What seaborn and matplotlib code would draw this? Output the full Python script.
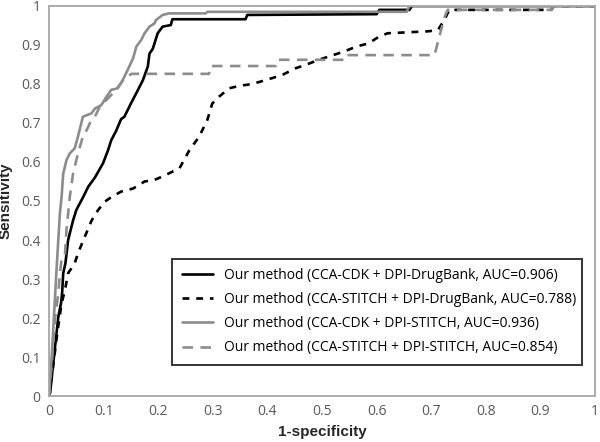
import numpy as np
import pandas as pd
import matplotlib
matplotlib.use('Agg')
import matplotlib.pyplot as plt
import seaborn as sns

# ROC points (1-specificity, sensitivity)
cdk_db_x = [0, 0.002, 0.011, 0.017, 0.022, 0.024, 0.026, 0.030, 0.035, 0.044, 0.050, 0.0625, 0.072,
            0.084, 0.099, 0.108, 0.114, 0.123, 0.132, 0.138, 0.150, 0.163, 0.172, 0.181, 0.184, 0.190,
            0.199, 0.208, 0.223, 0.226, 0.360, 0.363, 0.600, 0.605, 0.66, 0.665, 1.0]
cdk_db_y = [0, 0.008, 0.126, 0.203, 0.238, 0.264, 0.315, 0.34, 0.40, 0.45, 0.477, 0.51, 0.537,
            0.56, 0.597, 0.63, 0.656, 0.68, 0.71, 0.716, 0.75, 0.785, 0.81, 0.845, 0.878, 0.89,
            0.93, 0.947, 0.951, 0.966, 0.966, 0.977, 0.979, 0.99, 0.99, 1.0, 1.0]

stitch_db_x = [0, 0.006, 0.015, 0.023, 0.029, 0.035, 0.047, 0.053, 0.066, 0.078, 0.09, 0.102, 0.114,
               0.132, 0.154, 0.175, 0.193, 0.208, 0.239, 0.257, 0.275, 0.290, 0.299, 0.311, 0.330,
               0.348, 0.372, 0.397, 0.427, 0.451, 0.470, 0.494, 0.540, 0.563, 0.585, 0.603, 0.620,
               0.694, 0.712, 0.724, 0.733, 0.92, 0.925, 1.0]
stitch_db_y = [0, 0.06, 0.16, 0.238, 0.27, 0.315, 0.34, 0.366, 0.41, 0.45, 0.477, 0.498, 0.51,
               0.524, 0.532, 0.55, 0.554, 0.563, 0.584, 0.63, 0.665, 0.708, 0.75, 0.767, 0.789,
               0.795, 0.80, 0.81, 0.823, 0.84, 0.849, 0.862, 0.883, 0.896, 0.904, 0.92, 0.93,
               0.935, 0.938, 0.964, 0.99, 0.99, 1.0, 1.0]

cdk_stitch_x = [0, 0.004, 0.008, 0.014, 0.017, 0.020, 0.023, 0.026, 0.032, 0.038, 0.047, 0.053, 0.056,
                0.062, 0.078, 0.084, 0.096, 0.105, 0.114, 0.126, 0.135, 0.144, 0.154, 0.160, 0.169,
                0.175, 0.184, 0.193, 0.196, 0.208, 0.220, 0.287, 0.290, 0.655, 0.66, 1.0]
cdk_stitch_y = [0, 0.08, 0.178, 0.33, 0.40, 0.47, 0.51, 0.57, 0.605, 0.622, 0.635, 0.665, 0.682,
                0.716, 0.725, 0.737, 0.746, 0.767, 0.785, 0.789, 0.81, 0.836, 0.866, 0.896, 0.913,
                0.93, 0.947, 0.955, 0.964, 0.977, 0.981, 0.981, 0.985, 0.985, 1.0, 1.0]

stitch_stitch_x = [0, 0.006, 0.011, 0.017, 0.020, 0.023, 0.029, 0.032, 0.038, 0.044, 0.053, 0.062,
                   0.069, 0.075, 0.084, 0.093, 0.105, 0.117, 0.129, 0.138, 0.151, 0.293, 0.296,
                   0.415, 0.418, 0.540, 0.543, 0.706, 0.724, 0.730, 0.92, 0.925, 1.0]
stitch_stitch_y = [0, 0.1, 0.2, 0.263, 0.315, 0.35, 0.357, 0.426, 0.51, 0.57, 0.622, 0.665,
                   0.682, 0.70, 0.716, 0.742, 0.759, 0.776, 0.797, 0.814, 0.826, 0.826, 0.846,
                   0.846, 0.862, 0.862, 0.874, 0.874, 0.97, 0.99, 0.99, 1.0, 1.0]

labels = ['Our method (CCA-CDK + DPI-DrugBank, AUC=0.906)',
          'Our method (CCA-STITCH + DPI-DrugBank, AUC=0.788)',
          'Our method (CCA-CDK + DPI-STITCH, AUC=0.936)',
          'Our method (CCA-STITCH + DPI-STITCH, AUC=0.854)']
tick_labels = ['0', '0.1', '0.2', '0.3', '0.4', '0.5', '0.6', '0.7', '0.8', '0.9', '1']

series = [(cdk_db_x, cdk_db_y), (stitch_db_x, stitch_db_y),
          (cdk_stitch_x, cdk_stitch_y), (stitch_stitch_x, stitch_stitch_y)]
colors = ['black', 'black', '#8c8c8c', '#8c8c8c']
dashes = [None, (2.6, 2.6), None, (4.0, 2.8)]

sns.set_style('white')
plt.rcParams['font.family'] = ['Open Sans', 'DejaVu Sans']

fig = plt.figure(figsize=(6, 4.42), dpi=100)
ax = fig.add_axes([0.0817, 0.104, 0.91, 0.8825])

for (xs, ys), lab, col, d in zip(series, labels, colors, dashes):
    df = pd.DataFrame({'x': xs, 'y': ys})
    sns.lineplot(data=df, x='x', y='y', ax=ax, color=col, linewidth=1.9,
                 estimator=None, sort=False, label=lab)
    if d is not None:
        ax.lines[-1].set_dashes(d)

ax.set_xlim(0, 1)
ax.set_ylim(0, 1)
ax.set_xticks(np.arange(0, 1.01, 0.1))
ax.set_yticks(np.arange(0, 1.01, 0.1))
ax.set_xticklabels(tick_labels)
ax.set_yticklabels(tick_labels)
ax.tick_params(length=0, labelsize=10, labelcolor='#595959', pad=6)
for s in ax.spines.values():
    s.set_color('#a6a6a6')
    s.set_linewidth(1.3)

ax.set_xlabel('1-specificity', fontsize=11, fontweight='bold', family='Liberation Sans', labelpad=4)
ax.set_ylabel('Sensitivity', fontsize=11, fontweight='bold', family='Liberation Sans', labelpad=6)

leg = ax.legend(loc='lower left', bbox_to_anchor=(0.213, 0.0615, 0.776, 0.295), mode='expand',
                frameon=True, fancybox=False, fontsize=10, handlelength=2.2,
                borderpad=0.7, labelspacing=0.65, handletextpad=0.8)
leg.get_frame().set_edgecolor('black')
leg.get_frame().set_linewidth(1.4)
for t in leg.get_texts():
    t.set_color('black')

fig.savefig('out.png', dpi=100)
